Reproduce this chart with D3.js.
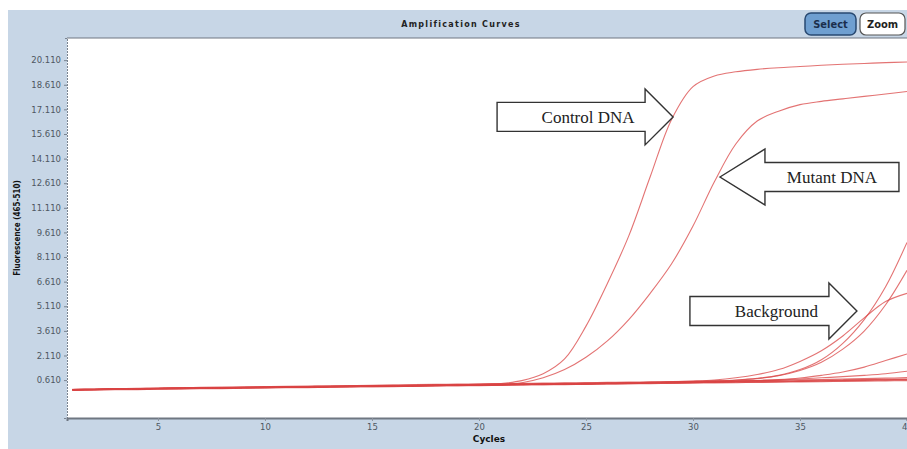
<!DOCTYPE html>
<html>
<head>
<meta charset="utf-8">
<script src="https://cdn.jsdelivr.net/npm/d3@7"></script>
<style>
  body { margin: 0; background: #fff; }
  svg { display: block; }
</style>
</head>
<body>
<svg id="chart"></svg>
<script>
// cycles on the x axis
var cycles = [1,2,3,4,5,6,7,8,9,10,11,12,13,14,15,16,17,18,19,20,
              21,22,23,24,25,26,27,28,29,30,31,32,33,34,35,36,37,38,39,40];

var yTicks = [0.61, 2.11, 3.61, 5.11, 6.61, 8.11, 9.61, 11.11, 12.61, 14.11, 15.61, 17.11, 18.61, 20.11];
var xTicks = [5, 10, 15, 20, 25, 30, 35, 40];

// fluorescence
var controlDNA = [0.02,0.04,0.06,0.08,0.10,0.11,0.13,0.14,0.16,0.17,0.19,0.20,0.22,0.23,0.25,0.26,0.28,0.29,0.31,0.33,
                  0.40,0.58,1.00,1.90,3.90,6.50,9.40,13.00,16.50,18.50,19.15,19.40,19.55,19.65,19.72,19.80,19.86,19.91,19.96,20.00];
var mutantDNA = [0.02,0.04,0.06,0.08,0.10,0.11,0.13,0.14,0.16,0.17,0.19,0.20,0.22,0.23,0.25,0.26,0.28,0.29,0.31,0.32,
                 0.34,0.45,0.75,1.25,2.00,3.00,4.30,5.90,7.70,10.00,12.70,15.00,16.40,17.00,17.40,17.60,17.75,17.90,18.05,18.20];
var background1 = [0.03,0.05,0.07,0.08,0.10,0.12,0.13,0.15,0.16,0.18,0.19,0.21,0.22,0.24,0.25,0.27,0.28,0.30,0.31,0.33,
                   0.34,0.36,0.37,0.39,0.40,0.42,0.44,0.46,0.49,0.52,0.56,0.62,0.72,0.90,1.25,1.85,2.85,4.30,6.30,9.00];
var background2 = [0.02,0.04,0.06,0.08,0.09,0.11,0.12,0.14,0.15,0.17,0.18,0.20,0.21,0.23,0.24,0.26,0.27,0.29,0.30,0.32,
                   0.33,0.35,0.36,0.38,0.39,0.41,0.43,0.45,0.48,0.51,0.55,0.60,0.70,0.88,1.20,1.70,2.50,3.60,5.20,7.30];
var background3 = [0.03,0.05,0.06,0.08,0.10,0.11,0.13,0.14,0.16,0.17,0.19,0.20,0.22,0.23,0.25,0.26,0.28,0.29,0.31,0.32,
                   0.34,0.35,0.37,0.38,0.40,0.42,0.44,0.47,0.50,0.55,0.62,0.75,0.95,1.25,1.75,2.40,3.30,4.40,5.40,5.90];
var background4 = [0.02,0.04,0.05,0.07,0.09,0.10,0.12,0.13,0.15,0.16,0.18,0.19,0.21,0.22,0.24,0.25,0.27,0.28,0.30,0.31,
                   0.33,0.34,0.36,0.37,0.39,0.40,0.42,0.44,0.46,0.48,0.51,0.54,0.58,0.64,0.74,0.90,1.10,1.40,1.80,2.20];
var background5 = [0.02,0.03,0.05,0.07,0.08,0.10,0.11,0.13,0.14,0.16,0.17,0.19,0.20,0.22,0.23,0.25,0.26,0.28,0.29,0.31,
                   0.32,0.34,0.35,0.37,0.38,0.40,0.41,0.43,0.45,0.47,0.50,0.53,0.57,0.62,0.68,0.75,0.82,0.90,1.00,1.15];
var negative1 = [0.01,0.03,0.05,0.06,0.08,0.09,0.11,0.12,0.14,0.15,0.17,0.18,0.20,0.21,0.23,0.24,0.26,0.27,0.29,0.30,
                 0.32,0.33,0.35,0.36,0.38,0.39,0.41,0.42,0.44,0.45,0.47,0.48,0.50,0.51,0.53,0.55,0.57,0.59,0.61,0.63];
var negative2 = [0.05,0.07,0.09,0.11,0.13,0.15,0.17,0.18,0.20,0.21,0.23,0.25,0.27,0.28,0.30,0.32,0.34,0.35,0.37,0.38,
                 0.40,0.41,0.43,0.44,0.46,0.47,0.49,0.50,0.52,0.53,0.55,0.57,0.59,0.61,0.63,0.65,0.67,0.70,0.73,0.76];
var negative3 = [-0.02,0.00,0.02,0.03,0.05,0.06,0.08,0.09,0.11,0.12,0.14,0.15,0.17,0.18,0.20,0.21,0.23,0.24,0.26,0.27,
                 0.29,0.30,0.32,0.33,0.35,0.36,0.38,0.39,0.41,0.42,0.44,0.45,0.47,0.48,0.50,0.51,0.53,0.54,0.56,0.58];
var negative4 = [0.00,0.03,0.04,0.07,0.08,0.10,0.10,0.13,0.13,0.16,0.16,0.19,0.19,0.22,0.22,0.25,0.25,0.28,0.28,0.31,
                 0.31,0.34,0.34,0.37,0.37,0.40,0.40,0.43,0.43,0.46,0.47,0.49,0.51,0.53,0.55,0.57,0.59,0.61,0.63,0.65];
var negative5 = [0.04,0.05,0.08,0.09,0.12,0.12,0.15,0.16,0.18,0.19,0.21,0.22,0.25,0.25,0.28,0.28,0.31,0.32,0.34,0.35,
                 0.37,0.38,0.40,0.41,0.43,0.44,0.46,0.47,0.49,0.50,0.52,0.53,0.55,0.56,0.58,0.60,0.62,0.64,0.66,0.68];

var curves = [negative1, negative2, negative3, negative4, negative5, background5, background4, background3,
              background2, background1, mutantDNA, controlDNA];

// annotation arrows: label, tip position (cycle, value), direction
var notes = [
  { label: "Control DNA", cycle: 29.07, value: 16.65, dir: "right" },
  { label: "Mutant DNA",  cycle: 31.26, value: 12.99, dir: "left" },
  { label: "Background",  cycle: 37.66, value: 4.82,  dir: "right" }
];

var width = 907,
    height = 449;

var svg = d3.select("#chart")
    .attr("width", width)
    .attr("height", height);

// plot box
var plotLeft = 67, plotRight = 907, plotTop = 38, plotBottom = 418;

var x = d3.scaleLinear().domain([0.75, 40]).range([plotLeft, plotRight]);
var y = d3.scaleLinear().domain([-1.7, 21.46]).range([plotBottom, plotTop]);

// blue-grey panel
svg.append("rect")
    .attr("x", 8).attr("y", 10)
    .attr("width", width - 8).attr("height", height - 10)
    .attr("fill", "#c7d6e6");

svg.append("rect")
    .attr("x", plotLeft).attr("y", plotTop)
    .attr("width", plotRight - plotLeft).attr("height", plotBottom - plotTop)
    .attr("fill", "#fff");

// title
svg.append("text")
    .attr("x", 461).attr("y", 27)
    .attr("text-anchor", "middle")
    .attr("font-family", "DejaVu Sans, sans-serif")
    .attr("font-weight", "bold")
    .attr("font-size", 8)
    .attr("letter-spacing", 1.3)
    .attr("fill", "#222")
    .text("Amplification Curves");

// buttons
var btn = svg.append("g");
btn.append("rect")
    .attr("x", 805).attr("y", 13).attr("width", 51).attr("height", 22).attr("rx", 6)
    .attr("fill", "#6f9fd0").attr("stroke", "#294a72").attr("stroke-width", 1.5);
btn.append("text")
    .attr("x", 830.5).attr("y", 28).attr("text-anchor", "middle")
    .attr("font-family", "DejaVu Sans Condensed, DejaVu Sans, sans-serif").attr("font-weight", "bold")
    .attr("font-size", 11).attr("fill", "#1b2f4d").text("Select");
btn.append("rect")
    .attr("x", 860).attr("y", 13).attr("width", 45).attr("height", 22).attr("rx", 6)
    .attr("fill", "#fff").attr("stroke", "#555").attr("stroke-width", 1.2);
btn.append("text")
    .attr("x", 882.5).attr("y", 28).attr("text-anchor", "middle")
    .attr("font-family", "DejaVu Sans Condensed, DejaVu Sans, sans-serif").attr("font-weight", "bold")
    .attr("font-size", 11).attr("fill", "#222").text("Zoom");

// axes
var yAxis = d3.axisLeft(y).tickValues(yTicks).tickSize(3).tickFormat(d3.format(".3f"));
var gy = svg.append("g").attr("transform", "translate(" + plotLeft + ",0)").call(yAxis);
gy.select(".domain").attr("stroke", "#7a8490").attr("stroke-dasharray", "2,1");
gy.selectAll(".tick line").attr("stroke", "#7a8490");
gy.selectAll(".tick text")
    .attr("font-family", "DejaVu Sans, sans-serif")
    .attr("font-size", 8.5)
    .attr("fill", "#4e5662");

var xAxis = d3.axisBottom(x).tickValues(xTicks).tickSize(3).tickFormat(d3.format("d"));
var gx = svg.append("g").attr("transform", "translate(0," + plotBottom + ")").call(xAxis);
gx.select(".domain").attr("stroke", "#6f7782").attr("stroke-width", 2);
gx.selectAll(".tick line").attr("stroke", "#8a929c");
gx.selectAll(".tick text")
    .attr("font-family", "DejaVu Sans, sans-serif")
    .attr("font-size", 8.5)
    .attr("fill", "#4e5662");

// top border
svg.append("line")
    .attr("x1", plotLeft).attr("x2", plotRight).attr("y1", plotTop).attr("y2", plotTop)
    .attr("stroke", "#6f7782").attr("stroke-width", 1);

// axis titles
svg.append("text")
    .attr("x", 489).attr("y", 442)
    .attr("text-anchor", "middle")
    .attr("font-family", "DejaVu Sans, sans-serif")
    .attr("font-weight", "bold").attr("font-size", 9)
    .attr("fill", "#111")
    .text("Cycles");

svg.append("text")
    .attr("transform", "translate(20,228) rotate(-90)")
    .attr("text-anchor", "middle")
    .attr("font-family", "DejaVu Sans Condensed, DejaVu Sans, sans-serif")
    .attr("font-weight", "bold").attr("font-size", 8)
    .attr("fill", "#111")
    .text("Fluorescence (465-510)");

// curves
var line = d3.line()
    .x(function (d, i) { return x(cycles[i]); })
    .y(function (d) { return y(d); })
    .curve(d3.curveCatmullRom.alpha(0.5));

svg.append("g")
    .selectAll("path")
    .data(curves).enter()
    .append("path")
    .attr("d", line)
    .attr("fill", "none")
    .attr("stroke", "#d94444")
    .attr("stroke-opacity", 0.75)
    .attr("stroke-width", 1.1);

// block arrows
var arrows = svg.append("g");
notes.forEach(function (n) {
    var tx = x(n.cycle), ty = y(n.value);
    var s = n.dir === "right" ? -1 : 1;
    var headLen = n.dir === "left" ? 45 : 28,
        bodyLen = n.dir === "left" ? 134 : (n.label === "Background" ? 139 : 148),
        headHalf = 28, bodyHalf = 14.5;
    var hb = tx + s * headLen, be = hb + s * bodyLen;
    var pts = [[tx, ty], [hb, ty - headHalf], [hb, ty - bodyHalf], [be, ty - bodyHalf],
               [be, ty + bodyHalf], [hb, ty + bodyHalf], [hb, ty + headHalf]];
    arrows.append("path")
        .attr("d", d3.line()(pts) + "Z")
        .attr("fill", "#fff")
        .attr("stroke", "#333")
        .attr("stroke-width", 1.4);
    var cx = n.dir === "left" ? (hb + be) / 2 : (hb + be) / 2 + 17;
    arrows.append("text")
        .attr("x", cx).attr("y", ty + 6)
        .attr("text-anchor", "middle")
        .attr("font-family", "Liberation Serif, Times New Roman, serif")
        .attr("font-size", 17)
        .attr("fill", "#222")
        .text(n.label);
});
</script>
</body>
</html>
